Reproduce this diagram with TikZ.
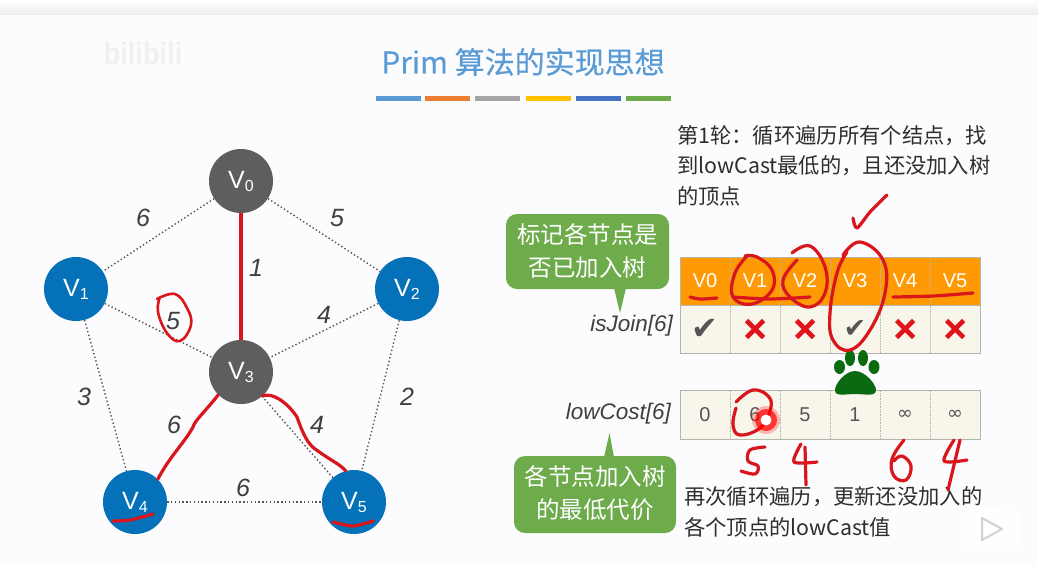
\documentclass[tikz,border=0pt]{standalone}
\usepackage{fontspec}
\usetikzlibrary{calc}
\setmainfont{Noto Sans CJK SC}
\newfontfamily\titlef[FakeBold=0.35]{Noto Sans CJK SC}
\newfontfamily\libf{Liberation Sans}
\newfontfamily\djf{DejaVu Sans}
\definecolor{bgc}{HTML}{FCFCFE}
\definecolor{gnode}{HTML}{5E5E60}
\definecolor{bnode}{HTML}{0471B9}
\definecolor{inkred}{HTML}{D9161C}
\definecolor{edgec}{HTML}{555555}
\definecolor{hdr}{HTML}{FF9A05}
\definecolor{cellc}{HTML}{F8F5EA}
\definecolor{cellb}{HTML}{B5B5B0}
\definecolor{greenc}{HTML}{6EAB4B}
\definecolor{txt}{HTML}{2E2E2E}
\definecolor{lab}{HTML}{3F3F3F}
\definecolor{titlec}{HTML}{5B9BD5}
\definecolor{paw}{HTML}{0A6A10}
\definecolor{baror}{HTML}{ED7D31}
\definecolor{bargr}{HTML}{A5A5A5}
\definecolor{baryl}{HTML}{FFC000}
\definecolor{barbl}{HTML}{4472C4}
\definecolor{crossc}{HTML}{E0141A}
\newcommand{\fs}[1]{\fontsize{#1}{#1}\selectfont}
\newcommand{\vlab}[1]{{\libf\fs{25}V\raisebox{-3pt}{\fs{16}#1}}}
\tikzset{
  x=1pt,y=-1pt,
  vert/.style={circle,minimum size=64pt,inner sep=0pt,text=white,fill=gnode},
  vblue/.style={vert,fill=bnode},
  edge/.style={dash pattern=on 1.4pt off 2.4pt,line width=1.4pt,edgec},
  weight/.style={inner sep=0pt,text=lab,font=\libf\itshape\fs{25}},
  ink/.style={inkred,line width=3.2pt,line cap=round,line join=round},
  hcell/.style={minimum width=50pt,minimum height=48pt,inner sep=0pt,fill=hdr,text=white,font=\libf\fs{20}},
  ccell/.style={minimum width=50pt,minimum height=48pt,inner sep=0pt,fill=cellc,draw=cellb,densely dotted,line width=.6pt},
  vcell/.style={ccell,minimum height=49pt,font=\libf\fs{20},text=edgec},
  yes/.style={ccell,font=\djf\fs{32},text=edgec},
  inf/.style={vcell,font=\djf\fs{19}},
  cross/.style={crossc,line width=4.6pt},
  call/.style={fill=greenc,rounded corners=11pt},
  calltext/.style={inner sep=0pt,text=white,font=\fs{23.5}},
  note/.style={inner sep=0pt,anchor=west,text=txt,font=\fs{21.3}},
  arrname/.style={inner sep=0pt,anchor=east,text=lab,font=\libf\itshape\fs{22.5}},
  bar/.style={minimum width=45pt,minimum height=5pt,inner sep=0pt}
}
\begin{document}
\begin{tikzpicture}
\useasboundingbox (0,0) rectangle (1038,566);
\fill[bgc] (0,0) rectangle (1038,566);
\shade[top color=white,bottom color=black!7] (0,0) rectangle (1038,14);

% watermark
\node[inner sep=0pt,text=black!6,font=\libf\bfseries\fs{31},xscale=.88] (wm) at (143,53) {bilibili};

% title
\node[inner sep=0pt,text=titlec,font=\titlef\fs{30}] (title) at (523,62) {Prim 算法的实现思想};
\node[bar,fill=titlec] (b1) at (398.5,98.5) {};
\node[bar,fill=baror] (b2) at (447.5,98.5) {};
\node[bar,fill=bargr] (b3) at (497.5,98.5) {};
\node[bar,fill=baryl] (b4) at (548.5,98.5) {};
\node[bar,fill=barbl] (b5) at (598,98.5) {};
\node[bar,fill=greenc] (b6) at (648.5,98.5) {};

% graph
\node[vert] (V0) at (241,181) {\vlab{0}};
\node[vblue] (V1) at (76,289) {\vlab{1}};
\node[vblue] (V2) at (407,289) {\vlab{2}};
\node[vert] (V3) at (241,372) {\vlab{3}};
\node[vblue] (V4) at (135,502) {\vlab{4}};
\node[vblue] (V5) at (354,502) {\vlab{5}};

\draw[edge] (V0) -- (V1);
\draw[edge] (V0) -- (V2);
\draw[edge] (V1) -- (V3);
\draw[edge] (V2) -- (V3);
\draw[edge] (V1) -- (V4);
\draw[edge] (V2) -- (V5);
\draw[edge] (V4) -- (V5);
\draw[edge] (V3) -- (V5);
\draw[inkred,line width=3.4pt] (V0) -- (V3);
\draw[ink] (V3.-135) .. controls (205,412) and (195,420) .. (193,427) .. controls (185,442) and (170,456) .. (V4.45);
\draw[ink] (V3.-48) .. controls (272,392) and (287,402) .. (297,417) .. controls (305,440) and (310,446) .. (318,451) .. controls (330,460) and (340,464) .. (V5.105);

\node[weight] (w01) at (143,218) {6};
\node[weight] (w02) at (337,218) {5};
\node[weight] (w03) at (256,268) {1};
\node[weight] (w13) at (173,321) {5};
\node[weight] (w23) at (324,315) {4};
\node[weight] (w14) at (84,397) {3};
\node[weight] (w25) at (407,397) {2};
\node[weight] (w34) at (174,425) {6};
\node[weight] (w35) at (317,425) {4};
\node[weight] (w45) at (243,488) {6};

\draw[ink,line width=2.6pt] plot[smooth,tension=.7] coordinates {(157,299) (175,294) (187,308) (191,325) (180,341) (167,333) (158,312) (160,297)};
\draw[ink] plot[smooth] coordinates {(113,521) (130,520) (153,514)};
\draw[ink] plot[smooth] coordinates {(333,522) (353,526) (373,521)};

% notes
\node[note] (n1) at (677,136) {第1轮：循环遍历所有个结点，找};
\node[note] (n2) at (677,166) {到lowCast最低的，且还没加入树};
\node[note] (n3) at (677,196) {的顶点};
\node[note] (n4) at (684,497) {再次循环遍历，更新还没加入的};
\node[note] (n5) at (684,527) {各个顶点的lowCast值};

% isJoin table
\node[hcell] (h0) at (705,281) {V0};
\node[hcell] (h1) at (755,281) {V1};
\node[hcell] (h2) at (805,281) {V2};
\node[hcell] (h3) at (855,281) {V3};
\node[hcell] (h4) at (905,281) {V4};
\node[hcell] (h5) at (955,281) {V5};
\node[yes] (j0) at (705,329) {✔};
\node[ccell] (j1) at (755,329) {};
\node[ccell] (j2) at (805,329) {};
\node[yes,font=\djf\fs{27}] (j3) at (855,329) {✔};
\node[ccell] (j4) at (905,329) {};
\node[ccell] (j5) at (955,329) {};
\foreach \cn in {j1,j2,j4,j5}{
  \draw[cross] ($(\cn.center)+(-8.5,-8.5)$) -- ($(\cn.center)+(8.5,8.5)$);
  \draw[cross] ($(\cn.center)+(-8.5,8.5)$) -- ($(\cn.center)+(8.5,-8.5)$);
}
\draw[cellb,line width=.8pt] (680,257) rectangle (980,353);
\draw[cellb,line width=.6pt] (680,305) -- (980,305);
\foreach \xx in {730,780,830,880,930}{\draw[cellb,densely dotted,line width=.6pt] (\xx,257) -- (\xx,305);}
\node[arrname] (isj) at (673,326) {isJoin[6]};

% lowCost table
\node[vcell] (c0) at (705,414.5) {0};
\node[vcell] (c1) at (755,414.5) {6};
\node[vcell] (c2) at (805,414.5) {5};
\node[vcell] (c3) at (855,414.5) {1};
\node[inf]   (c4) at (905,414.5) {∞};
\node[inf]   (c5) at (955,414.5) {∞};
\draw[cellb,line width=.8pt] (680,390) rectangle (980,439);
\node[arrname] (lowc) at (671,414) {lowCost[6]};

% callouts
\fill[call] (506,214) rectangle (669,289);
\fill[greenc] (614,288) -- (626,288) -- (620,313) -- cycle;
\node[calltext] (c1a) at (587.5,235) {标记各节点是};
\node[calltext] (c1b) at (587.5,268) {否已加入树};
\fill[call] (514,456) rectangle (676,533);
\fill[greenc] (604,457) -- (614,457) -- (609.5,433) -- cycle;
\node[calltext] (c2a) at (595,477) {各节点加入树};
\node[calltext] (c2b) at (595,510) {的最低代价};

% paw
\fill[paw] (855,371) .. controls (865,371) and (876,384) .. (876,390) .. controls (876,397) and (865,394) .. (855,394) .. controls (845,394) and (835,397) .. (835,390) .. controls (835,384) and (845,371) .. (855,371) -- cycle;
\fill[paw] (839.5,367) ellipse [x radius=5.5,y radius=7];
\fill[paw] (850,358) ellipse [x radius=5,y radius=8];
\fill[paw] (863,358) ellipse [x radius=5,y radius=8];
\fill[paw] (874,367) ellipse [x radius=5.5,y radius=7];

% handwriting over the tables
\draw[ink] plot[smooth] coordinates {(853,218) (857,228) (870,212) (887,195)};
\draw[ink] plot[smooth] coordinates {(690,297) (700,299) (717,298)};
\draw[ink] plot[smooth] coordinates {(733,297) (770,299) (810,297)};
\draw[ink] plot[smooth,tension=.7] coordinates {(748,255) (735,273) (733,297) (752,304) (772,290) (772,270) (757,257) (745,256)};
\draw[ink] plot[smooth,tension=.7] coordinates {(792,253) (810,246) (825,267) (825,293) (810,307) (790,297) (783,280) (797,260)};
\draw[ink] plot[smooth,tension=.7] coordinates {(843,255) (860,242) (883,260) (885,293) (870,330) (850,350) (833,340) (830,313) (837,273) (847,252)};
\draw[ink] plot[smooth] coordinates {(893,297) (933,296) (973,293)};
\draw[ink] plot[smooth,tension=.7] coordinates {(736,402) (753,390) (769,397) (770,411) (760,428) (740,435) (733,425) (736,408)};
\draw[ink] plot[smooth,tension=.6] coordinates {(765,447) (750,450) (748,461) (758,466) (755,474) (741,471)};
\draw[ink] plot[smooth,tension=.5] coordinates {(801,444) (794,462) (817,462)};
\draw[ink] (805,447) -- (806,485);
\draw[ink] plot[smooth,tension=.7] coordinates {(904,440) (892,459) (894,476) (906,480) (911,466) (902,456) (894,461)};
\draw[ink] plot[smooth,tension=.5] coordinates {(954,440) (944,461) (967,460)};
\draw[ink] (960,440) -- (948,490);

% pointer dot
\fill[red,opacity=.25] (766,420) circle (14);
\fill[red,opacity=.7] (766,420) circle (11);
\fill[white] (766,420) circle (5.5);

% play badge
\fill[white,opacity=.85,rounded corners=8pt] (962,507) rectangle (1020,551);
\draw[white,opacity=.85,line width=3pt,line cap=round] (972,503) -- (978,509);
\draw[white,opacity=.85,line width=3pt,line cap=round] (1010,503) -- (1004,509);
\draw[black!18,line width=2pt,line join=round,fill=white] (982,518) -- (1002,529) -- (982,540) -- cycle;
\end{tikzpicture}
\end{document}
